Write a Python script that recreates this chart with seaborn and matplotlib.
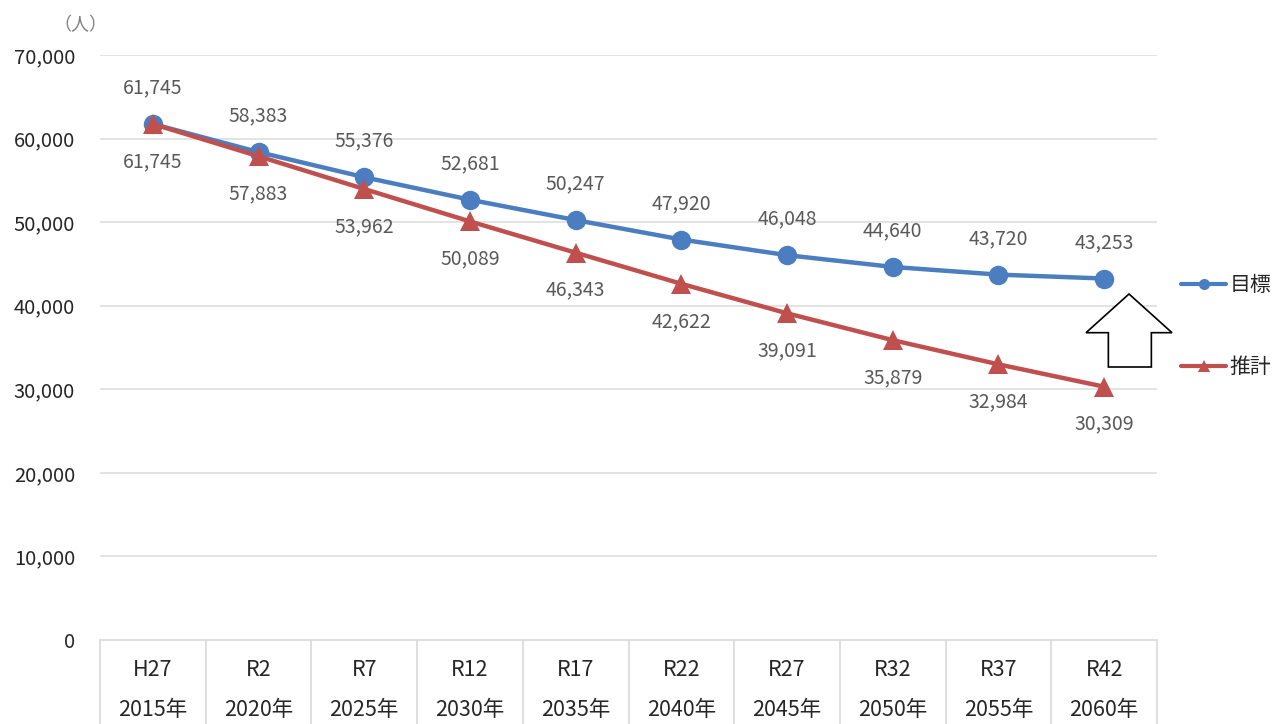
import matplotlib
matplotlib.use("Agg")
import matplotlib.pyplot as plt
import matplotlib.transforms as mtransforms
from matplotlib.patches import Polygon
from matplotlib.lines import Line2D
import pandas as pd
import seaborn as sns

# data
wareki = ["H27", "R2", "R7", "R12", "R17", "R22", "R27", "R32", "R37", "R42"]
years = ["2015年", "2020年", "2025年", "2030年", "2035年", "2040年", "2045年", "2050年", "2055年", "2060年"]
target = [61745, 58383, 55376, 52681, 50247, 47920, 46048, 44640, 43720, 43253]
estimate = [61745, 57883, 53962, 50089, 46343, 42622, 39091, 35879, 32984, 30309]
y_ticks = [0, 10000, 20000, 30000, 40000, 50000, 60000, 70000]

BLUE = "#4a7ec0"
RED = "#c0504d"

sns.set_theme(style="white")
plt.rcParams["font.family"] = ["Noto Sans CJK JP", "DejaVu Sans"]

df = pd.DataFrame({
    "idx": list(range(len(years))) * 2,
    "value": target + estimate,
    "series": ["目標"] * len(target) + ["推計"] * len(estimate),
})

fig = plt.figure(figsize=(12.83, 7.24), dpi=100)
ax = fig.add_axes([100 / 1283, 1 - 640 / 724, 1057 / 1283, 585 / 724])

sns.lineplot(data=df, x="idx", y="value", hue="series", style="series",
             markers={"目標": "o", "推計": "^"}, dashes=False,
             palette={"目標": BLUE, "推計": RED}, linewidth=3.2,
             markersize=14, markeredgewidth=0, legend=False, ax=ax, zorder=3)

ax.set_xlim(-0.5, len(years) - 0.5)
ax.set_ylim(0, 70000)
ax.set_yticks(y_ticks)
ax.set_yticklabels([f"{v:,}" for v in y_ticks], fontsize=14.5, color="#262626")
ax.tick_params(axis="y", length=0, pad=18)
ax.set_xticks([])
ax.set_xlabel("")
ax.set_ylabel("")
for s in ["top", "right", "left"]:
    ax.spines[s].set_visible(False)
ax.spines["bottom"].set_color("#d9d9d9")
ax.spines["bottom"].set_linewidth(1.2)
for v in y_ticks[1:]:
    ax.axhline(v, color="#dedede", linewidth=1.2, zorder=1)

# value labels
for i, v in enumerate(target):
    ax.annotate(f"{v:,}", (i, v), xytext=(0, 26), textcoords="offset points",
                ha="center", va="center", fontsize=14, color="#595959")
for i, v in enumerate(estimate):
    ax.annotate(f"{v:,}", (i, v), xytext=(0, -27), textcoords="offset points",
                ha="center", va="center", fontsize=14, color="#595959")

# category table below the axis
trans = mtransforms.blended_transform_factory(ax.transData, ax.transAxes)
for i in range(len(years)):
    ax.text(i, -0.052, wareki[i], transform=trans, ha="center", va="center",
            fontsize=15.5, color="#262626")
    ax.text(i, -0.12, years[i], transform=trans, ha="center", va="center",
            fontsize=15.5, color="#262626")
for b in range(len(years) + 1):
    ax.add_line(Line2D([b - 0.5, b - 0.5], [0, -0.2], transform=trans,
                       color="#d9d9d9", linewidth=1.2, clip_on=False))

fig.text(80 / 1283, 1 - 25 / 724, "（人）", ha="center", va="center",
         fontsize=13, color="#7f7f7f")

# legend on the right
handles = [
    Line2D([], [], color=BLUE, marker="o", linewidth=3, markersize=8, markeredgewidth=0),
    Line2D([], [], color=RED, marker="^", linewidth=3, markersize=8, markeredgewidth=0),
]
fig.legend(handles, ["目標", "推計"], loc="center left",
           bbox_to_anchor=(1166 / 1283, 1 - 326 / 724), frameon=False,
           borderpad=0.2, fontsize=15, handlelength=2.2, handletextpad=0.15,
           labelspacing=2.9)

# hollow up arrow between the two lines
arrow = [(0.5, 0.0), (1.0, 0.53), (0.76, 0.53), (0.76, 1.0),
         (0.26, 1.0), (0.26, 0.53), (0.0, 0.53)]
x0, y0, w, h = 1086, 294, 86, 73
pts = [((x0 + px * w) / 1283, 1 - (y0 + py * h) / 724) for px, py in arrow]
fig.patches.append(Polygon(pts, closed=True, transform=fig.transFigure,
                           facecolor="white", edgecolor="black", linewidth=1.2))

fig.savefig("out.png", dpi=100)
